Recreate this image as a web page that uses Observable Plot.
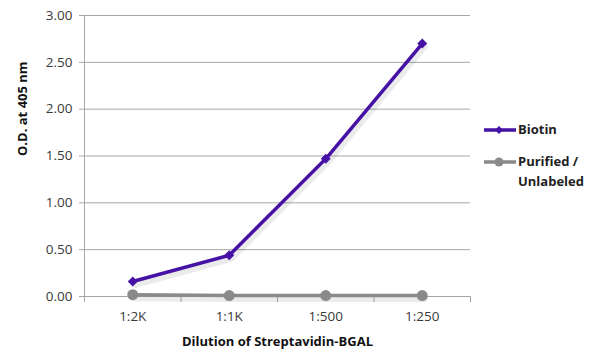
<!DOCTYPE html>
<html>
<head>
<meta charset="utf-8">
<script src="https://cdn.jsdelivr.net/npm/d3@7"></script>
<script src="https://cdn.jsdelivr.net/npm/@observablehq/plot@0.6"></script>
<style>
  html, body { margin: 0; padding: 0; background: #fff; }
  #wrap { position: relative; width: 600px; height: 362px; font-family: "Open Sans", sans-serif; }
  .leg { position: absolute; left: 483px; display: flex; align-items: flex-start; font: bold 13px "Open Sans", sans-serif; color: #222; line-height: 20px; }
  .leg svg { margin-right: 1px; margin-top: 3px; }
</style>
</head>
<body>
<div id="wrap"></div>
<script>
const categories = ["1:2K", "1:1K", "1:500", "1:250"];
const biotin = [0.16, 0.44, 1.47, 2.70];
const purified = [0.02, 0.01, 0.01, 0.01];
const yTicks = [0, 0.5, 1, 1.5, 2, 2.5, 3];
const seriesNames = ["Biotin", "Purified / Unlabeled"];
const colors = ["#4612a6", "#8a8a8a"];

const data = [];
categories.forEach((c, i) => {
  data.push({series: seriesNames[0], i, value: biotin[i]});
  data.push({series: seriesNames[1], i, value: purified[i]});
});
const bounds = d3.range(categories.length + 1).map(k => k - 0.5);

const chart = Plot.plot({
  width: 600,
  height: 362,
  marginLeft: 84,
  marginRight: 130,
  marginTop: 15,
  marginBottom: 66,
  style: {fontFamily: "Open Sans, sans-serif", fontSize: "13.5px", color: "#3a3a3a"},
  x: {type: "linear", domain: [-0.5, categories.length - 0.5]},
  y: {domain: [0, 3]},
  color: {domain: seriesNames, range: colors},
  marks: [
    Plot.gridY(yTicks, {stroke: "#a6a6a6", strokeOpacity: 1, strokeWidth: 1}),
    Plot.ruleX([-0.5], {stroke: "#a6a6a6"}),
    Plot.axisY({ticks: yTicks, tickFormat: d3.format(".2f"), tickSize: 5, tickPadding: 7, stroke: "#a6a6a6", label: null, fontSize: 13.5}),
    Plot.axisX({ticks: bounds, tickFormat: () => "", tickSize: 6, stroke: "#a6a6a6", label: null}),
    Plot.axisX({ticks: d3.range(categories.length), tickFormat: i => categories[i], tickSize: 0, tickPadding: 15, label: null, fontSize: 13.5}),
    Plot.text(["Dilution of Streptavidin-BGAL"], {frameAnchor: "bottom", dy: 49, fontWeight: "bold", fontSize: 13, fill: "#111"}),
    Plot.text(["O.D. at 405 nm"], {frameAnchor: "left", dx: -62, rotate: -90, fontWeight: "bold", fontSize: 13, fill: "#111"}),
    Plot.lineY(data, {x: "i", y: "value", z: "series", stroke: "#000", strokeWidth: 7, strokeOpacity: 0.08, dx: 2, dy: 3}),
    Plot.lineY(data, {x: "i", y: "value", stroke: "series", z: "series", strokeWidth: 3.5}),
    Plot.dot(data.filter(d => d.series === seriesNames[1]), {x: "i", y: "value", fill: colors[1], r: 5.5}),
    Plot.dot(data.filter(d => d.series === seriesNames[0]), {x: "i", y: "value", fill: colors[0], symbol: "square", rotate: 45, r: 4})
  ]
});
const wrap = document.getElementById("wrap");
wrap.appendChild(chart);

const legTop = [119, 151];
seriesNames.forEach((name, k) => {
  const div = document.createElement("div");
  div.className = "leg";
  div.style.top = legTop[k] + "px";
  const marker = k === 0
    ? `<polygon points="16,4 20,8 16,12 12,8" fill="${colors[k]}"/>`
    : `<circle cx="16" cy="8" r="4.5" fill="${colors[k]}"/>`;
  div.innerHTML = `<svg width="34" height="16"><line x1="1" x2="33" y1="8" y2="8" stroke="${colors[k]}" stroke-width="3.5"/>${marker}</svg><span>${name === "Purified / Unlabeled" ? "Purified /<br>Unlabeled" : name}</span>`;
  wrap.appendChild(div);
});
</script>
</body>
</html>
